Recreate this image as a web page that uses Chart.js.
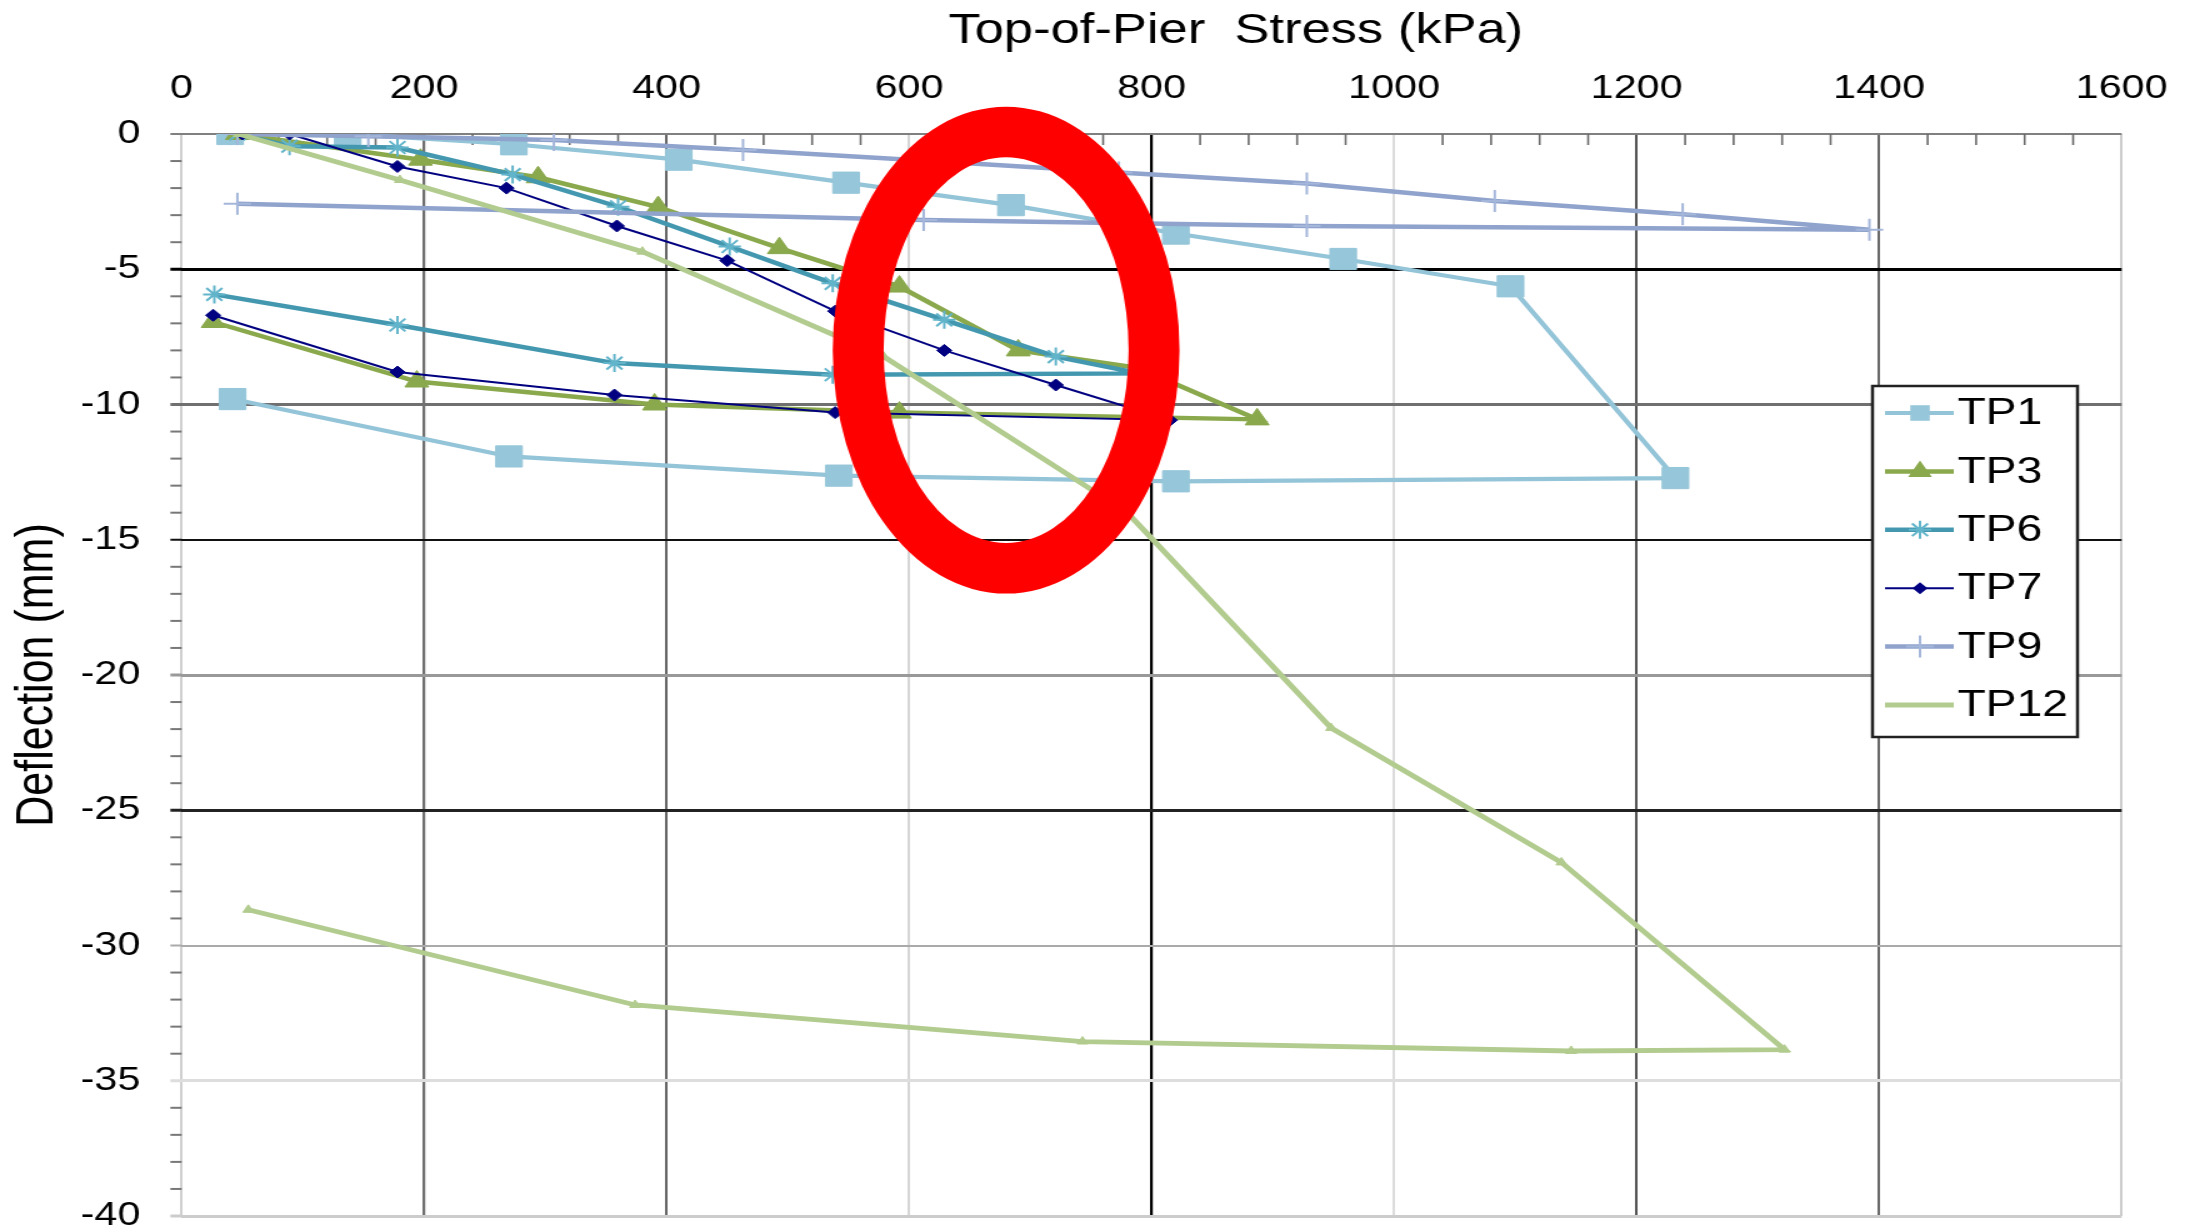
<!DOCTYPE html>
<html><head><meta charset="utf-8">
<script src="https://cdn.jsdelivr.net/npm/chart.js@4.4.1/dist/chart.umd.min.js"></script>
<style>
html,body{margin:0;padding:0;background:#fff;overflow:hidden;}
#wrap{width:2190px;height:1232px;overflow:hidden;background:#fff;}
#c{display:block;transform:scaleX(1.25);transform-origin:0 0;}
</style></head><body>
<div id="wrap"><canvas id="c" width="1752" height="1232" style="width:1752px;height:1232px"></canvas></div>
<script>
// ---------- data (x = top-of-pier stress kPa, y = deflection mm) ----------
const seriesNames = ['TP1','TP3','TP6','TP7','TP9','TP12'];

const tp1Stress     = [40, 137, 274, 410, 548, 684, 820, 958, 1096, 1232, 820, 542, 270, 42];
const tp1Deflection = [0, 0, -0.38, -0.95, -1.8, -2.63, -3.68, -4.62, -5.63, -12.72, -12.84, -12.63, -11.92, -9.8];

const tp3Stress     = [46, 197, 294, 393, 493, 592, 690, 789, 887, 592, 390, 194, 26];
const tp3Deflection = [0, -0.95, -1.6, -2.7, -4.22, -5.64, -8.0, -8.65, -10.55, -10.3, -10.0, -9.15, -6.95];

const tp6Stress     = [46, 89, 178, 273, 360, 452, 537, 629, 721, 790, 537, 357, 178, 27];
const tp6Deflection = [0, -0.45, -0.5, -1.5, -2.69, -4.16, -5.52, -6.87, -8.23, -8.85, -8.9, -8.47, -7.06, -5.93];

const tp7Stress     = [50, 89, 178, 268, 359, 450, 539, 629, 721, 815, 539, 357, 178, 26];
const tp7Deflection = [0, 0, -1.2, -2.0, -3.4, -4.68, -6.55, -8.0, -9.28, -10.58, -10.3, -9.65, -8.8, -6.7];

const tp9Stress     = [46, 154, 307, 463, 618, 773, 928, 1083, 1238, 1392, 928, 612, 46];
const tp9Deflection = [0, -0.08, -0.22, -0.59, -1.0, -1.42, -1.83, -2.48, -2.97, -3.54, -3.4, -3.18, -2.58];

const tp12Stress     = [47, 180, 380, 579, 780, 948, 1138, 1322, 1146, 743, 374, 55];
const tp12Deflection = [0, -1.7, -4.35, -8.23, -14.0, -21.96, -26.93, -33.85, -33.9, -33.55, -32.2, -28.68];

const xTickLabels = ['0','200','400','600','800','1000','1200','1400','1600'];
const yTickLabels = ['0','-5','-10','-15','-20','-25','-30','-35','-40'];

const xAxisTitle = 'Top-of-Pier  Stress (kPa)';
const yAxisTitle = 'Deflection (mm)';

// red oval annotation (data units: kPa, mm)
const ovalCenter = [680, -7.99];
const ovalOuter  = [143, 9.0];
const ovalInner  = [101, 7.13];

// ---------- styles ----------
const FONT = '"Liberation Sans", Arial, sans-serif';
const styles = [
  {line:'#93C4D8', fill:'#96C6D9', point:'rect',     r:15, lw:4.2, pbw:1, order:6},
  {line:'#8AA84C', fill:'#8AA84C', point:'triangle', r:11, lw:4.5, pbw:1, order:5},
  {line:'#4398B0', fill:'#62B4CA', point:'star',     r:9,  lw:4.5, pbw:2, order:4},
  {line:'#000080', fill:'#000080', point:'rectRot',  r:6,  lw:2,   pbw:1, order:3},
  {line:'#8FA3CD', fill:'#A4B6DA', point:'cross',    r:11, lw:4.5, pbw:2, order:2},
  {line:'#B2CB8E', fill:'#B2CB8E', point:'triangle', r:5,  lw:4.8, pbw:1, order:1}
];
const xGridColor = {0:'#cfcfcf',200:'#707070',400:'#666666',600:'#d6d6d6',800:'#000000',1000:'#dcdcdc',1200:'#555555',1400:'#6a6a6a',1600:'#cccccc'};
const xGridWidth = {0:2,200:2.2,400:2,600:2,800:2.2,1000:2,1200:2,1400:2,1600:2};
const yGridColor = {'0':'#808080','-5':'#000000','-10':'#707070','-15':'#111111','-20':'#999999','-25':'#222222','-30':'#aaaaaa','-35':'#dddddd','-40':'#cccccc'};
const yGridWidth = {'0':2,'-5':3,'-10':3,'-15':2,'-20':3,'-25':3,'-30':2,'-35':3,'-40':3};

const xs = [tp1Stress, tp3Stress, tp6Stress, tp7Stress, tp9Stress, tp12Stress];
const ys = [tp1Deflection, tp3Deflection, tp6Deflection, tp7Deflection, tp9Deflection, tp12Deflection];

const datasets = seriesNames.map((name, k) => ({
  label: name,
  data: xs[k].map((x, i) => ({x: x, y: ys[k][i]})),
  showLine: true,
  tension: 0,
  borderColor: styles[k].line,
  borderWidth: styles[k].lw,
  backgroundColor: styles[k].fill,
  pointStyle: styles[k].point,
  pointRadius: styles[k].r,
  pointBorderColor: styles[k].fill,
  pointBackgroundColor: styles[k].fill,
  pointBorderWidth: styles[k].pbw,
  order: styles[k].order
}));

function drawMarker(ctx, style, r, x, y, fill, bw) {
  ctx.save();
  ctx.fillStyle = fill; ctx.strokeStyle = fill; ctx.lineWidth = bw;
  ctx.beginPath();
  if (style === 'rect') {
    const s = Math.SQRT1_2 * r; ctx.rect(x - s, y - s, 2 * s, 2 * s); ctx.fill();
  } else if (style === 'triangle') {
    ctx.moveTo(x, y - r); ctx.lineTo(x + r * 0.866, y + r * 0.5); ctx.lineTo(x - r * 0.866, y + r * 0.5); ctx.closePath(); ctx.fill();
  } else if (style === 'rectRot') {
    ctx.moveTo(x, y - r); ctx.lineTo(x + r, y); ctx.lineTo(x, y + r); ctx.lineTo(x - r, y); ctx.closePath(); ctx.fill();
  } else if (style === 'cross') {
    ctx.moveTo(x, y - r); ctx.lineTo(x, y + r); ctx.moveTo(x - r, y); ctx.lineTo(x + r, y); ctx.stroke();
  } else if (style === 'star') {
    ctx.moveTo(x, y - r); ctx.lineTo(x, y + r); ctx.moveTo(x - r, y); ctx.lineTo(x + r, y);
    const d = r * Math.SQRT1_2;
    ctx.moveTo(x - d, y - d); ctx.lineTo(x + d, y + d); ctx.moveTo(x + d, y - d); ctx.lineTo(x - d, y + d); ctx.stroke();
  }
  ctx.restore();
}

const decorPlugin = {
  id: 'decor',
  beforeDatasetsDraw(chart) {
    const {ctx, chartArea: a, scales: {x, y}} = chart;
    ctx.save();
    ctx.strokeStyle = '#6a6a6a'; ctx.lineWidth = 1.6;
    for (let v = 40; v < 1600; v += 40) {
      if (v % 200 === 0) continue;
      const px = x.getPixelForValue(v);
      ctx.beginPath(); ctx.moveTo(px, a.top); ctx.lineTo(px, a.top + 11); ctx.stroke();
    }
    for (let v = 0; v >= -40; v -= 1) {
      const py = y.getPixelForValue(v);
      const key = String(v);
      if (v % 5 === 0) { ctx.strokeStyle = yGridColor[key]; ctx.lineWidth = yGridWidth[key]; }
      else { ctx.strokeStyle = '#777777'; ctx.lineWidth = 2; }
      ctx.beginPath(); ctx.moveTo(a.left - 9, py); ctx.lineTo(a.left, py); ctx.stroke();
    }
    ctx.restore();
  },
  afterDraw(chart) {
    const {ctx, chartArea: a, scales: {x, y}} = chart;
    ctx.save();
    ctx.fillStyle = '#000';
    ctx.font = '42px ' + FONT;
    ctx.textAlign = 'center'; ctx.textBaseline = 'alphabetic';
    ctx.fillText(xAxisTitle, a.left + 0.5434 * (a.right - a.left), 43);
    ctx.restore();

    const bx = 1498, by = 386, bw = 164, bh = 351;
    ctx.save();
    ctx.fillStyle = '#fff'; ctx.fillRect(bx, by, bw, bh);
    ctx.strokeStyle = '#222'; ctx.lineWidth = 2.5; ctx.strokeRect(bx, by, bw, bh);
    ctx.font = '37px ' + FONT; ctx.textAlign = 'left'; ctx.textBaseline = 'middle';
    chart.data.datasets.forEach((ds, i) => {
      const cy = by + 27 + i * 58.4;
      ctx.strokeStyle = ds.borderColor; ctx.lineWidth = ds.borderWidth;
      ctx.beginPath(); ctx.moveTo(bx + 10, cy); ctx.lineTo(bx + 65, cy); ctx.stroke();
      if (ds.label !== 'TP12') {
        const r = Math.min(ds.pointRadius, 11);
        drawMarker(ctx, ds.pointStyle, r, bx + 38, cy, ds.pointBackgroundColor, ds.pointBorderWidth);
      }
      ctx.fillStyle = '#000';
      ctx.fillText(ds.label, bx + 68, cy + 1);
    });
    ctx.restore();

    const cx = x.getPixelForValue(ovalCenter[0]);
    const cy = y.getPixelForValue(ovalCenter[1]);
    const orx = x.getPixelForValue(ovalCenter[0] + ovalOuter[0]) - cx;
    const ory = y.getPixelForValue(ovalCenter[1] - ovalOuter[1]) - cy;
    const irx = x.getPixelForValue(ovalCenter[0] + ovalInner[0]) - cx;
    const iry = y.getPixelForValue(ovalCenter[1] - ovalInner[1]) - cy;
    ctx.save();
    ctx.fillStyle = '#ff0000';
    ctx.beginPath();
    ctx.ellipse(cx, cy, orx, ory, 0, 0, Math.PI * 2);
    ctx.ellipse(cx, cy, irx, iry, 0, 0, Math.PI * 2);
    ctx.fill('evenodd');
    ctx.restore();
  }
};

new Chart(document.getElementById('c'), {
  type: 'scatter',
  data: {datasets: datasets},
  options: {
    responsive: false,
    animation: false,
    devicePixelRatio: 1,
    layout: {padding: {left: 0, top: 0, right: 54.7, bottom: 15.5}},
    plugins: {legend: {display: false}, tooltip: {enabled: false}, title: {display: false}},
    scales: {
      x: {
        type: 'linear', position: 'top', min: 0, max: 1600,
        afterFit(s) { s.height = 134; s.paddingLeft = 0; s.paddingRight = 0; },
        ticks: {
          stepSize: 200, padding: 25, color: '#000',
          font: {family: FONT, size: 33},
          callback: (v) => xTickLabels[Math.round(v / 200)]
        },
        border: {display: false},
        grid: {
          drawTicks: false,
          color: (c) => xGridColor[c.tick.value] || '#ccc',
          lineWidth: (c) => xGridWidth[c.tick.value] || 2
        }
      },
      y: {
        type: 'linear', min: -40, max: 0,
        afterFit(s) { s.width = 145.3; s.paddingTop = 0; s.paddingBottom = 0; },
        ticks: {
          stepSize: 5, padding: 33, color: '#000',
          font: {family: FONT, size: 33},
          callback: (v) => yTickLabels[Math.round(-v / 5)]
        },
        title: {display: true, text: yAxisTitle, color: '#000', font: {family: FONT, size: 43}, padding: {top: 4, bottom: 0}},
        border: {display: false},
        grid: {
          drawTicks: false,
          color: (c) => yGridColor[String(c.tick.value)] || '#ccc',
          lineWidth: (c) => yGridWidth[String(c.tick.value)] || 2
        }
      }
    }
  },
  plugins: [decorPlugin]
});
</script>
</body></html>
